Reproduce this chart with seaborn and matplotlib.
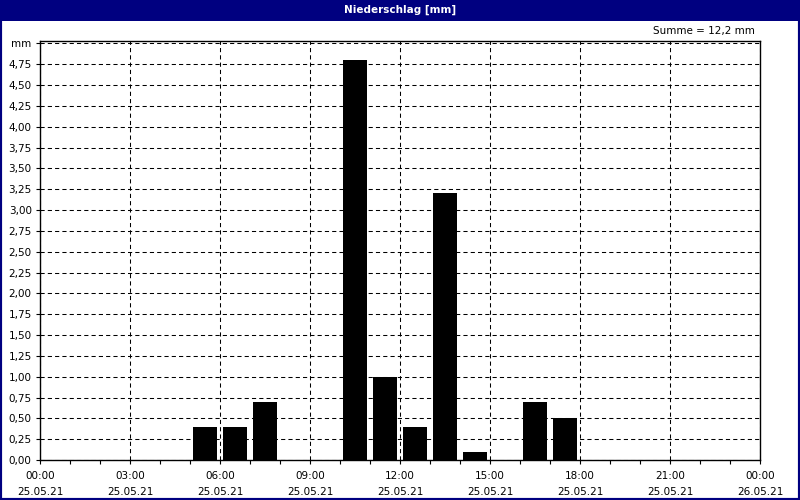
import matplotlib
matplotlib.use('Agg')
import matplotlib.pyplot as plt
from matplotlib.patches import Rectangle
from matplotlib.ticker import FixedLocator, MultipleLocator
import numpy as np
import pandas as pd
import seaborn as sns

# hourly precipitation on 25.05.21 (mm), hour = start of interval
hours = list(range(24))
rain_mm = [0, 0, 0, 0, 0, 0.4, 0.4, 0.7, 0, 0, 4.8, 1.0,
           0.4, 3.2, 0.1, 0, 0.7, 0.5, 0, 0, 0, 0, 0, 0]

x_tick_hours = [0, 3, 6, 9, 12, 15, 18, 21, 24]
x_tick_labels = ['00:00\n25.05.21', '03:00\n25.05.21', '06:00\n25.05.21',
                 '09:00\n25.05.21', '12:00\n25.05.21', '15:00\n25.05.21',
                 '18:00\n25.05.21', '21:00\n25.05.21', '00:00\n26.05.21']
y_ticks = [i * 0.25 for i in range(21)]

title = 'Niederschlag [mm]'
navy = '#000080'

sns.set_style('white')
plt.rcParams['font.family'] = ['DejaVu Sans']
plt.rcParams['font.size'] = 7.5

df = pd.DataFrame({'mid': [h + 0.5 for h in hours], 'rain': rain_mm})

fig = plt.figure(figsize=(8, 5), dpi=100, facecolor='white')
ax = fig.add_axes([40 / 800, 40 / 500, 720 / 800, 419 / 500])

sns.barplot(data=df, x='mid', y='rain', native_scale=True, width=0.8,
            color='black', saturation=1, errorbar=None, linewidth=0, ax=ax)

ax.set_xlim(0, 24)
ax.set_ylim(0, 5.03)
ax.set_xlabel('')
ax.set_ylabel('')

# ticks
ax.xaxis.set_major_locator(FixedLocator(x_tick_hours))
ax.set_xticklabels(x_tick_labels, linespacing=1.7)
ax.xaxis.set_minor_locator(MultipleLocator(1))
ax.yaxis.set_major_locator(FixedLocator(y_ticks))
ylabels = [f'{v:.2f}'.replace('.', ',') for v in y_ticks]
ylabels[-1] = 'mm'
ax.set_yticklabels(ylabels)
ax.tick_params(axis='both', which='both', direction='out', length=3,
               width=0.8, color='black', labelcolor='black', pad=3,
               bottom=True, left=True, top=False, right=False)
ax.tick_params(axis='x', which='major', pad=5)

# dashed grid behind bars
ax.set_axisbelow(True)
ax.grid(True, which='major', color='black', linestyle=(0, (4, 3)), linewidth=0.75)

for s in ax.spines.values():
    s.set_visible(True)
    s.set_color('black')
    s.set_linewidth(1)

# sum in the top right corner
total = sum(rain_mm)
fig.text(755 / 800, 1 - 31 / 500, f'Summe = {total:.1f} mm'.replace('.', ','),
         ha='right', va='center', fontsize=7.5, color='black')

# navy title bar and frame
fig.patches.append(Rectangle((0, 1 - 21 / 500), 1, 21 / 500, transform=fig.transFigure,
                             facecolor=navy, edgecolor='none', zorder=0))
fig.text(0.5, 1 - 10 / 500, title, ha='center', va='center', color='white',
         fontsize=7.5, fontweight='bold')
fig.patches.append(Rectangle((0, 0), 1, 1, transform=fig.transFigure, fill=False,
                             edgecolor=navy, linewidth=3, zorder=5))

fig.savefig('out.png', dpi=100, facecolor='white')
